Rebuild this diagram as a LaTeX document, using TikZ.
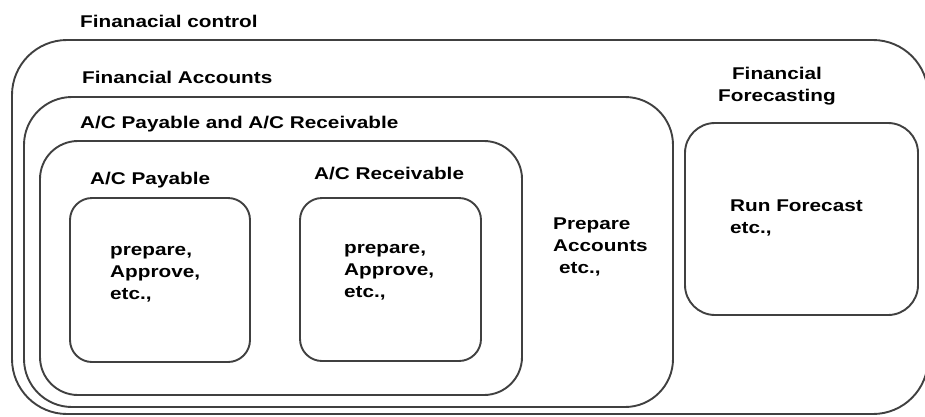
\documentclass[tikz,border=0pt]{standalone}
\usepackage{fontspec}
\setmainfont{Liberation Sans}[FakeStretch=1.22]
\tikzset{
    panel/.style={draw=black!75, line width=1.9pt, inner sep=0pt},
    lbl/.style={anchor=base west, inner sep=0pt, align=left, font=\fontsize{17}{22}\selectfont\bfseries},
}

\begin{document}
\begin{tikzpicture}[x=1pt, y=-1pt]
        \useasboundingbox (0,0) rectangle (925,416);
        \begin{scope}
            \node[panel, rounded corners=55pt, minimum width=916pt, minimum height=374pt] (control) at (470,227) {};
            \node[panel, rounded corners=48pt, minimum width=649pt, minimum height=310pt] (accounts) at (348.5,252) {};
            \node[panel, rounded corners=38pt, minimum width=482pt, minimum height=254pt] (payrec) at (281,268) {};
            \node[panel, rounded corners=22pt, minimum width=180pt, minimum height=164pt] (payable) at (160,280) {};
            \node[panel, rounded corners=22pt, minimum width=181pt, minimum height=163pt] (receivable) at (390.5,279.5) {};
            \node[panel, rounded corners=30pt, minimum width=233pt, minimum height=192pt] (forecast) at (801.5,219) {};

            \node[lbl] (tcontrol) at (80,27) {Finanacial control};
            \node[lbl] (taccounts) at (82,83) {Financial Accounts};
            \node[lbl] (tpayrec) at (80,128) {A/C Payable and A/C Receivable};
            \node[lbl] (tpayable) at (90,184) {A/C Payable};
            \node[lbl] (treceivable) at (314,179) {A/C Receivable};
            \node[lbl, anchor=base, align=center] (tforecast) at (777,101) {Financial\\Forecasting};
            \node[lbl] (trun) at (730,233) {Run Forecast\\etc.,};
            \node[lbl] (tprepare) at (553,273) {Prepare\\Accounts\\\hspace*{6pt}etc.,};
            \node[lbl] (tpaysteps) at (110,299) {prepare,\\Approve,\\etc.,};
            \node[lbl] (trecsteps) at (344,297) {prepare,\\Approve,\\etc.,};
        \end{scope}
    \end{tikzpicture}
\end{document}
